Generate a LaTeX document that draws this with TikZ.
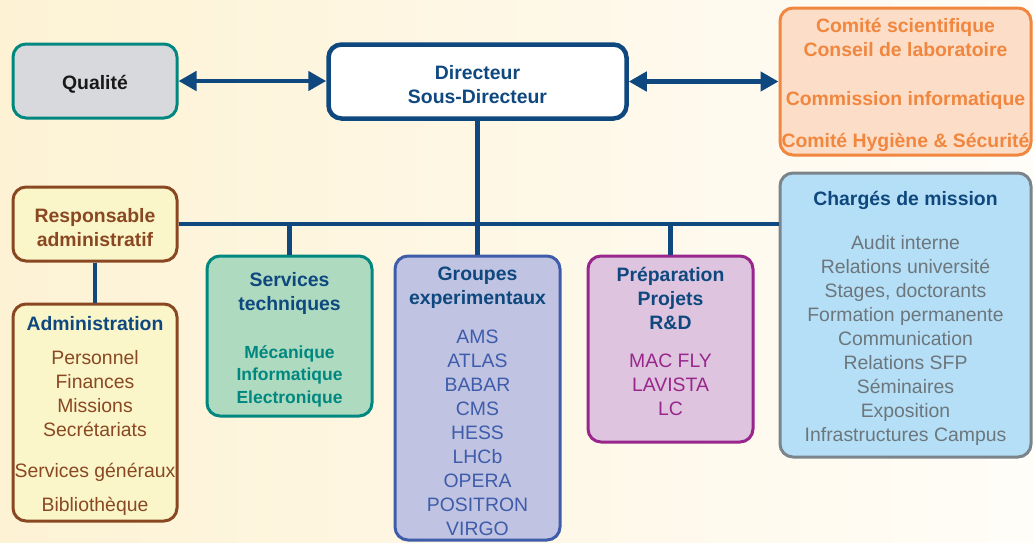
\documentclass[tikz,border=0pt]{standalone}
\usepackage{fontspec}
\setmainfont{Liberation Sans}
\usetikzlibrary{arrows.meta}
\definecolor{dblue}{RGB}{14,72,126}
\definecolor{cteal}{RGB}{0,136,128}
\definecolor{cbrown}{RGB}{138,72,34}
\definecolor{cblue}{RGB}{62,92,170}
\definecolor{cpurple}{RGB}{152,38,140}
\definecolor{cgray}{RGB}{108,118,124}
\definecolor{cgrayb}{RGB}{122,132,138}
\definecolor{corange}{RGB}{241,134,62}
\definecolor{fgray}{RGB}{216,217,220}
\definecolor{fyellow}{RGB}{250,246,202}
\definecolor{fgreen}{RGB}{174,218,192}
\definecolor{fblue}{RGB}{192,196,226}
\definecolor{fpurple}{RGB}{222,196,222}
\definecolor{fsky}{RGB}{180,223,246}
\definecolor{forange}{RGB}{252,222,200}
\definecolor{bgl}{RGB}{253,242,212}
\definecolor{bgr}{RGB}{255,253,248}
\newcommand\myfs{\fontsize{19.4pt}{24pt}\selectfont}
\newcommand\hd[1]{{\bfseries\color{dblue}#1}}
\newcommand\up{\rule{0pt}{21pt}}
\newcommand\tfs{\fontsize{17.5pt}{22.5pt}\selectfont\bfseries}
\tikzset{
  box/.style={rounded corners=13pt, line width=3pt, align=center, inner sep=0pt, font=\myfs},
  conn/.style={draw=dblue, line width=4.5pt},
  dconn/.style={conn, {Triangle[length=18pt,width=19pt]}-{Triangle[length=18pt,width=19pt]}}
}
\begin{document}
\begin{tikzpicture}[x=1pt,y=-1pt]
\useasboundingbox (0,0) rectangle (1034,542);
\shade[left color=bgl, right color=bgr] (0,0) rectangle (1034,542);

\node[box, draw=cteal, fill=fgray, minimum width=164pt, minimum height=74pt, font=\myfs\bfseries, text=black!90] (q) at (95,81) {\up Qualité};
\node[box, draw=dblue, line width=4.5pt, fill=white, minimum width=298pt, minimum height=74pt, font=\myfs\bfseries, text=dblue] (d) at (477.5,81.5) {\up Directeur\\Sous-Directeur};
\node[box, draw=corange, fill=forange, minimum width=251pt, minimum height=147pt, font=\myfs\bfseries, text=corange] (c) at (905.5,81.5)
  {\up Comité scientifique\\Conseil de laboratoire\\[25pt]Commission informatique\\[18pt]Comité Hygiène \& Sécurité};
\node[box, draw=cgrayb, fill=fsky, minimum width=251pt, minimum height=284pt, text=cgray] (ch) at (905.5,315)
  {\up\hd{Chargés de mission}\\[20pt]Audit interne\\Relations université\\Stages, doctorants\\Formation permanente\\Communication\\Relations SFP\\Séminaires\\Exposition\\Infrastructures Campus};
\node[box, draw=cbrown, fill=fyellow, minimum width=164pt, minimum height=74pt, font=\myfs\bfseries, text=cbrown] (r) at (95,224) {\up Responsable\\administratif};
\node[box, draw=cbrown, fill=fyellow, minimum width=164pt, minimum height=217pt, text=cbrown] (a) at (95,412.5)
  {\up\hd{Administration}\\[10pt]Personnel\\Finances\\Missions\\Secrétariats\\[17pt]Services généraux\\[10pt]Bibliothèque};
\node[box, draw=cteal, fill=fgreen, minimum width=165pt, minimum height=160pt, text=cteal] (s) at (289.5,336)
  {\up\hd{Services}\\\hd{techniques}\\[24pt]{\tfs Mécanique}\\[-1.5pt]{\tfs Informatique}\\[-1.5pt]{\tfs Electronique}};
\node[box, draw=cblue, fill=fblue, minimum width=165pt, minimum height=284pt, text=cblue] (g) at (477.5,398)
  {\up\hd{Groupes}\\\hd{experimentaux}\\[15pt]AMS\\ATLAS\\BABAR\\CMS\\HESS\\LHCb\\OPERA\\POSITRON\\VIRGO};
\node[box, draw=cpurple, fill=fpurple, minimum width=165pt, minimum height=186pt, text=cpurple] (p) at (670.5,349)
  {\up\hd{Préparation}\\\hd{Projets}\\\hd{R\&D}\\[14pt]MAC FLY\\LAVISTA\\LC\rule[-23pt]{0pt}{0pt}};

\draw[dconn] (q.east) -- (q.east -| d.west);
\draw[dconn] (d.east) -- (d.east -| c.west);
\draw[conn] (d.south) -- (g.north);
\draw[conn] (r.east) -- (r.east -| ch.west);
\draw[conn] (s.north) -- (s.north |- r.east);
\draw[conn] (p.north) -- (p.north |- r.east);
\draw[conn] (r.south) -- (a.north);
\end{tikzpicture}
\end{document}
